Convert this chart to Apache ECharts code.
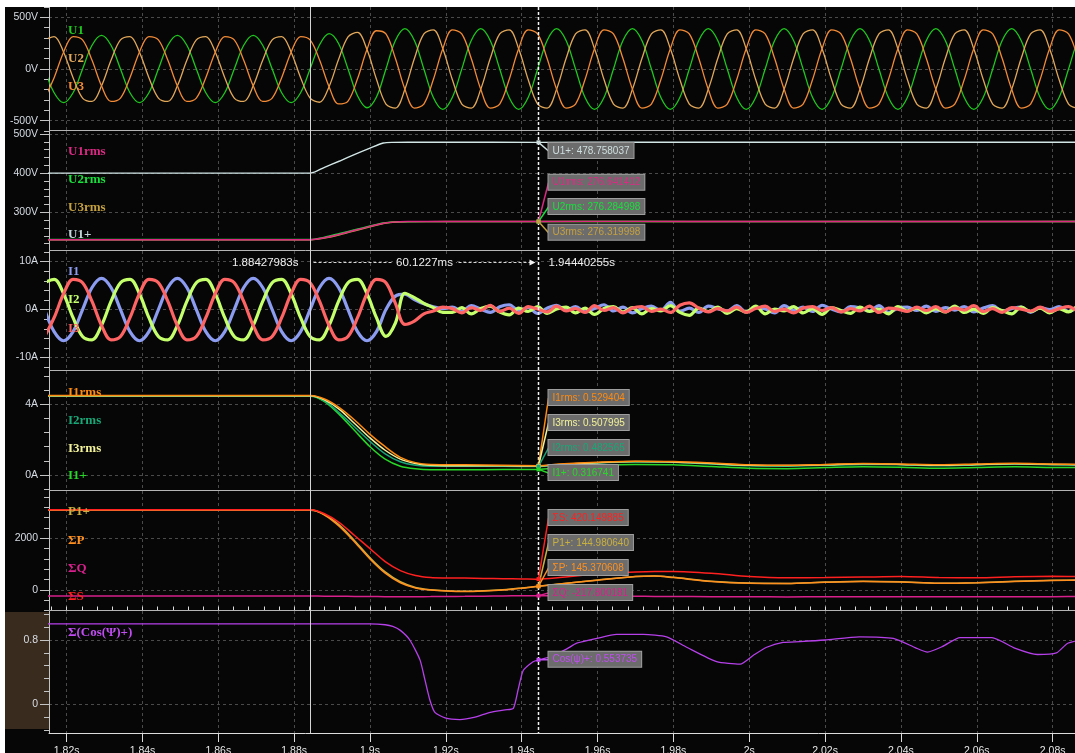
<!DOCTYPE html>
<html><head><meta charset="utf-8">
<script src="https://cdn.jsdelivr.net/npm/echarts@6/dist/echarts.min.js"></script>
<style>
html,body{margin:0;padding:0;background:#fff;width:1075px;height:753px;overflow:hidden}
#bg{position:absolute;left:5px;top:7px;width:1070px;height:746px;background:#060606}
#sel{position:absolute;left:5px;top:612px;width:44px;height:117px;background:#3a2b1f}
#chart{position:absolute;left:5px;top:7px;width:1070px;height:746px}
</style></head><body>
<div id="bg"></div><div id="sel"></div><div id="chart"></div>
<script>
// ---------------- data ----------------
const tU = [1.8142,1.8167,1.8192,1.8217,1.8242,1.8267,1.8292,1.8317,1.8342,1.8367,
1.8392,1.8417,1.8442,1.8467,1.8492,1.8517,1.8542,1.8567,1.8592,1.8617,
1.8642,1.8667,1.8692,1.8717,1.8742,1.8767,1.8792,1.8817,1.8842,1.8867,
1.8892,1.8917,1.8942,1.8967,1.8992,1.9017,1.9042,1.9067,1.9092,1.9117,
1.9142,1.9167,1.9192,1.9217,1.9242,1.9267,1.9292,1.9317,1.9342,1.9367,
1.9392,1.9417,1.9442,1.9467,1.9492,1.9517,1.9542,1.9567,1.9592,1.9617,
1.9642,1.9667,1.9692,1.9717,1.9742,1.9767,1.9792,1.9817,1.9842,1.9867,
1.9892,1.9917,1.9942,1.9967,1.9992,2.0017,2.0042,2.0067,2.0092,2.0117,
2.0142,2.0167,2.0192,2.0217,2.0242,2.0267,2.0292,2.0317,2.0342,2.0367,
2.0392,2.0417,2.0442,2.0467,2.0492,2.0517,2.0542,2.0567,2.0592,2.0617,
2.0642,2.0667,2.0692,2.0717,2.0742,2.0767,2.0792,2.0817,2.0842,2.0867,
2.0892];
const U1 = [0,-230,-325,-230,0,230,325,230,
0,-230,-325,-230,0,230,325,230,
0,-230,-325,-230,0,230,325,230,
0,-230,-325,-230,0,
235,342,247,0,-259,-375,-271,0,
276,391,276,
0,-276,-391,-276,0,276,391,276,
0,-276,-391,-276,0,276,391,276,
0,-276,-391,-276,0,276,391,276,
0,-276,-391,-276,0,276,391,276,
0,-276,-391,-276,0,276,391,276,
0,-276,-391,-276,0,276,391,276,
0,-276,-391,-276,0,276,391,276,
0,-276,-391,-276,0,276,391,276,
0,-276,-391,-276,0,276,391];
const U2 = [281,314,163,-84,-281,-314,-163,84,
281,314,163,-84,-281,-314,-163,84,
281,314,163,-84,-281,-314,-163,84,
281,314,163,-84,-281,
-322,-171,91,310,354,188,-99,-339,
-378,-196,101,
339,378,196,-101,-339,-378,-196,101,
339,378,196,-101,-339,-378,-196,101,
339,378,196,-101,-339,-378,-196,101,
339,378,196,-101,-339,-378,-196,101,
339,378,196,-101,-339,-378,-196,101,
339,378,196,-101,-339,-378,-196,101,
339,378,196,-101,-339,-378,-196,101,
339,378,196,-101,-339,-378,-196,101,
339,378,196,-101,-339,-378,-196];
const U3 = [-281,-84,163,314,281,84,-163,-314,
-281,-84,163,314,281,84,-163,-314,
-281,-84,163,314,281,84,-163,-314,
-281,-84,163,314,281,
86,-171,-338,-310,-95,188,370,339,
101,-196,-378,
-339,-101,196,378,339,101,-196,-378,
-339,-101,196,378,339,101,-196,-378,
-339,-101,196,378,339,101,-196,-378,
-339,-101,196,378,339,101,-196,-378,
-339,-101,196,378,339,101,-196,-378,
-339,-101,196,378,339,101,-196,-378,
-339,-101,196,378,339,101,-196,-378,
-339,-101,196,378,339,101,-196,-378,
-339,-101,196,378,339,101,-196];
const I1 = [0,-4.6,-6.5,-4.6,0,4.6,6.5,4.6,
0,-4.6,-6.5,-4.6,0,4.6,6.5,4.6,
0,-4.6,-6.5,-4.6,0,4.6,6.5,4.6,
0,-4.6,-6.5,-4.6,0,4.6,6.5,4.6,
0,-4.6,-6.5,-4.6,0,
2.8,3.2,2.1,1.2,0.6,0.2,
0.5,-0.3,0.8,0.1,-0.6,0.6,1.0,-0.2,0.4,-0.8,
0.3,0.9,-0.1,0.6,-0.5,0.2,1.0,-0.3,0.5,-0.7,
0.2,0.7,-0.2,1.5,-0.4,0.3,-0.6,0.7,0.2,-0.3,
0.8,-0.5,0.4,0.1,-0.7,0.8,-0.1,0.5,-0.4,0.9,
0.1,-0.5,0.6,0.3,-0.3,0.8,-0.6,0.3,0.5,-0.2,
0.7,-0.4,0.4,-0.1,0.6,-0.5,0.3,0.8,-0.3,0.2,
0.5,-0.6,0.4,0.0,0.6,-0.4,0.3,0.2];
const I2 = [5.6,6.3,3.3,-1.7,-5.6,-6.3,-3.3,1.7,
5.6,6.3,3.3,-1.7,-5.6,-6.3,-3.3,1.7,
5.6,6.3,3.3,-1.7,-5.6,-6.3,-3.3,1.7,
5.6,6.3,3.3,-1.7,-5.6,-6.3,-3.3,1.7,
5.6,6.3,3.3,-1.7,-5.6,
-2.8,3.4,2.5,1.3,0.4,-0.6,
-0.6,0.4,-0.9,0.2,0.7,-0.5,-1.1,0.3,-0.4,0.6,
-0.8,0.1,0.5,-0.7,0.3,-1.0,0.2,0.6,-0.5,0.4,
-0.9,0.2,-0.3,0.8,-0.6,-1.2,0.3,-0.4,0.5,-0.8,
0.2,-0.5,0.7,-0.9,0.1,-0.3,0.6,-0.7,0.2,-1.0,
0.4,-0.2,-0.8,0.5,-0.4,0.1,-0.9,0.6,-0.3,0.3,
-0.7,0.2,-0.5,0.7,-0.6,0.1,-0.8,0.4,-0.2,-0.9,
0.5,-0.4,0.3,-0.7,0.2,-0.5,0.6,-0.3];
const I3 = [-5.6,-1.7,3.3,6.3,5.6,1.7,-3.3,-6.3,
-5.6,-1.7,3.3,6.3,5.6,1.7,-3.3,-6.3,
-5.6,-1.7,3.3,6.3,5.6,1.7,-3.3,-6.3,
-5.6,-1.7,3.3,6.3,5.6,1.7,-3.3,-6.3,
-5.6,-1.7,3.3,6.3,5.6,
1.3,-3.1,-2.4,-0.9,-0.3,0.5,
0.2,-0.7,0.4,-0.2,0.9,-0.4,0.3,-0.8,0.6,0.1,
-0.5,0.7,-0.3,0.2,-0.6,0.8,-0.2,0.4,-0.7,0.3,
0.6,-0.4,0.1,-0.6,0.9,1.4,0.3,-0.5,0.2,-0.3,
0.5,-0.6,0.2,0.7,-0.4,0.1,-0.7,0.3,0.6,-0.2,
0.4,-0.5,0.2,-0.3,0.7,-0.6,0.3,0.1,-0.4,0.5,
-0.2,0.6,-0.5,0.3,-0.1,0.8,-0.4,0.2,-0.6,0.4,
0.1,-0.3,0.5,-0.4,0.2,0.6,-0.2,0.3];

const tRmsU = [1.8142,1.8843,1.888,1.892,1.896,1.9,1.9035,1.906,1.91,1.92,1.9444,1.97,2.0,2.03,2.06,2.0892];
const U1pos = [400,400,415,431,448,464,477,478.6,478.8,478.8,478.76,478.8,478.8,478.8,478.8,478.8];
const U1rms = [230,230,235,244,254,264,272,275,276.3,276.5,276.64,276.7,276.6,276.7,276.6,276.6];
const U2rms = [230.3,230.3,236.5,246,255.5,265,272.5,275.2,276,276.2,276.28,276.3,276.2,276.3,276.2,276.3];
const U3rms = [229.7,229.7,234,242.5,252.5,263,271.5,274.6,276.1,276.3,276.32,276.4,276.3,276.3,276.4,276.3];

const tRmsI = [1.8142,1.8843,1.888,1.892,1.896,1.9,1.904,1.908,1.912,1.916,1.925,1.935,1.9444,1.95,1.96,1.97,1.98,1.99,2.0,2.01,2.02,2.03,2.04,2.05,2.06,2.07,2.08,2.0892];
const I1rms = [4.5,4.5,4.3,3.8,3.1,2.3,1.6,1.0,0.7,0.6,0.58,0.55,0.53,0.62,0.72,0.78,0.76,0.68,0.58,0.55,0.6,0.65,0.62,0.58,0.62,0.66,0.62,0.6];
const I2rms = [4.47,4.47,4.2,3.5,2.7,1.9,1.2,0.75,0.55,0.5,0.5,0.49,0.483,0.56,0.68,0.74,0.72,0.62,0.52,0.5,0.55,0.6,0.58,0.52,0.57,0.62,0.58,0.56];
const I3rms = [4.49,4.49,4.25,3.7,2.9,2.1,1.4,0.9,0.65,0.55,0.52,0.52,0.508,0.6,0.7,0.76,0.74,0.65,0.55,0.54,0.58,0.63,0.6,0.55,0.6,0.64,0.6,0.58];
const I1pos = [4.46,4.46,4.15,3.4,2.5,1.6,0.9,0.5,0.35,0.3,0.3,0.31,0.317,0.42,0.55,0.6,0.58,0.48,0.38,0.36,0.42,0.47,0.44,0.38,0.42,0.46,0.43,0.42];

const tPow = [1.8142,1.8843,1.888,1.892,1.896,1.9,1.904,1.908,1.912,1.916,1.92,1.925,1.93,1.935,1.94,1.9444,1.95,1.96,1.97,1.975,1.98,1.99,2.0,2.01,2.02,2.03,2.04,2.05,2.06,2.07,2.08,2.0892];
const sumS = [3100,3100,2950,2600,2100,1600,1100,750,560,480,465,460,450,440,430,420,480,620,700,720,720,650,520,470,480,500,520,480,470,510,530,520];
const sumP = [3100,3100,2900,2450,1850,1200,650,280,80,0,-40,-60,-40,0,70,145,230,380,520,540,480,330,260,250,300,330,310,260,280,330,370,380];
const P1pos = [3090,3090,2920,2500,1900,1250,700,320,100,10,-30,-50,-30,10,75,145,235,385,525,545,490,340,270,255,305,335,315,265,285,335,375,385];
const sumQ = [-235,-235,-238,-242,-248,-252,-256,-258,-258,-255,-250,-245,-238,-230,-222,-218,-222,-232,-242,-248,-252,-258,-264,-266,-262,-258,-256,-258,-262,-260,-256,-255];

const tCos = [1.8142,1.9,1.904,1.906,1.908,1.9105,1.9132,1.9145,1.9158,1.9171,1.9198,1.9237,1.9277,1.9317,1.9356,1.9378,1.9391,1.9404,1.943,1.9444,1.9475,1.9519,1.9545,1.9598,1.965,1.9721,1.9782,1.9835,1.9914,1.9976,2.0011,2.0046,2.0089,2.0134,2.02,2.029,2.038,2.044,2.047,2.051,2.0556,2.064,2.07,2.076,2.081,2.084,2.0892];
const cosPhi = [1.0,1.0,0.99,0.97,0.92,0.8,0.55,0.3,0.05,-0.1,-0.17,-0.19,-0.16,-0.1,-0.07,-0.05,0.19,0.42,0.53,0.554,0.59,0.69,0.76,0.82,0.87,0.87,0.84,0.71,0.53,0.5,0.61,0.71,0.77,0.78,0.8,0.84,0.82,0.7,0.65,0.72,0.83,0.83,0.7,0.62,0.64,0.76,0.82];

// ticks
const xMajor = [1.82,1.84,1.86,1.88,1.9,1.92,1.94,1.96,1.98,2.0,2.02,2.04,2.06,2.08];
const xMajorLabels = ['1.82s','1.84s','1.86s','1.88s','1.9s','1.92s','1.94s','1.96s','1.98s','2s','2.02s','2.04s','2.06s','2.08s'];
const xMinor = [1.816,1.82,1.824,1.828,1.832,1.836,1.84,1.844,1.848,1.852,1.856,1.86,1.864,1.868,1.872,1.876,1.88,1.884,1.888,1.892,1.896,1.9,1.904,1.908,1.912,1.916,1.92,1.924,1.928,1.932,1.936,1.94,1.944,1.948,1.952,1.956,1.96,1.964,1.968,1.972,1.976,1.98,1.984,1.988,1.992,1.996,2.0,2.004,2.008,2.012,2.016,2.02,2.024,2.028,2.032,2.036,2.04,2.044,2.048,2.052,2.056,2.06,2.064,2.068,2.072,2.076,2.08,2.084];
const yMajor = [[-500,0,500],[300,400,500],[-10,0,10],[0,4],[0,2000],[0,0.8]];
const yMajorLabels = [['-500V','0V','500V'],['300V','400V','500V'],['-10A','0A','10A'],['0A','4A'],['0','2000'],['0','0.8']];
const yMinor = [
 [-600,-500,-400,-300,-200,-100,0,100,200,300,400,500,600],
 [220,240,260,280,300,320,340,360,380,400,420,440,460,480,500],
 [-12,-10,-8,-6,-4,-2,0,2,4,6,8,10,12],
 [-0.8,0,0.8,1.6,2.4,3.2,4,4.8,5.6],
 [-800,-400,0,400,800,1200,1600,2000,2400,2800,3200,3600],
 [-0.32,-0.16,0,0.16,0.32,0.48,0.64,0.8,0.96,1.12]];

// names
const names1 = ['U1','U2','U3'];
const names2 = ['U1rms','U2rms','U3rms','U1+'];
const names3 = ['I1','I2','I3'];
const names4 = ['I1rms','I2rms','I3rms','I1+'];
const names5 = ['P1+','ΣP','ΣQ','ΣS'];
const names6 = ['Σ(Cos(Ψ)+)'];

// cursors and readouts
const cursorT = [1.88427983, 1.94440255];
const cursorLabels = ['1.88427983s','60.1227ms','1.94440255s'];
const readNames2 = ['U1+','U1rms','U2rms','U3rms'];
const readVals2 = [478.758037,276.641412,276.284998,276.319998];
const readNames4 = ['I1rms','I3rms','I2rms','I1+'];
const readVals4 = [0.529404,0.507995,0.482565,0.316741];
const readNames5 = ['ΣS','P1+','ΣP','ΣQ'];
const readVals5 = [420.149885,144.980640,145.370608,-217.800181];
const readNames6 = ['Cos(ψ)+'];
const readVals6 = [0.553735];

// ---------------- layout & style ----------------
const X_MIN = 1.81535, X_MAX = 2.0859;
const GRID_TOP = [0,124,244,364,484,604];
const GRID_H = [124,120,120,120,120,122];
const Y_RANGE = [[-600,600],[201.1,507.7],[-12.8,12.2],[-0.905,5.884],[-812,3830],[-0.357,1.161]];
const C = {U1:'#1ec81e',U2:'#e2a85a',U3:'#f28a36',U1pos:'#d2e6e6',U1rms:'#dc2a84',U2rms:'#18e03c',U3rms:'#c4a040',
  I1:'#8c9cf0',I2:'#c4ff6c',I3:'#ff6464',I1rms:'#ff8a10',I2rms:'#18a878',I3rms:'#f2f29a',I1pos:'#28d828',
  P1pos:'#c8b040',SP:'#ff9020',SQ:'#d8208c',SS:'#ff2020',cos:'#b640ea'};
const AX = '#c4c4c4';
const SPLIT = {show:true, lineStyle:{color:'#4a4a4a', type:[3,3], width:1}};

function nearestLabel(vals, labs){
  return function(v){ let bi=0, bd=Infinity; vals.forEach((x,i)=>{const d=Math.abs(x-v); if(d<bd){bd=d;bi=i;}}); return labs[bi]; };
}
const pairs = (ts, vs) => ts.map((t,k)=>[t, vs[k]]);

const grids = GRID_TOP.map((t,i)=>({left:44, right:0, top:t, height:GRID_H[i], show:false, containLabel:false, outerBoundsMode:'none'}));
const xAxes = GRID_TOP.map((t,i)=>({
  type:'value', gridIndex:i, min:X_MIN, max:X_MAX,
  axisLine:{show:i===5, onZero:false, lineStyle:{color:'#dcdcdc', width:1}},
  axisTick:{show:i===5, length:9, customValues:xMajor, lineStyle:{color:'#dcdcdc'}},
  axisLabel:{show:i===5, customValues:xMajor, margin:13, color:'#e6e6e6', fontSize:10.5, fontFamily:'"Liberation Sans", Arial, sans-serif', formatter:nearestLabel(xMajor, xMajorLabels)},
  splitLine:SPLIT
}));
xAxes.push({type:'value', gridIndex:5, min:X_MIN, max:X_MAX,
  axisLine:{show:false, onZero:false}, axisTick:{show:true, length:4.5, customValues:xMinor, lineStyle:{color:'#dcdcdc'}},
  axisLabel:{show:false}, splitLine:{show:false}});
const yAxes = [];
for (let i=0;i<6;i++){
  yAxes.push({type:'value', gridIndex:i, min:Y_RANGE[i][0], max:Y_RANGE[i][1], position:'left',
    axisLine:{show:true, onZero:false, lineStyle:{color:AX}},
    axisTick:{show:true, length:9, customValues:yMajor[i], lineStyle:{color:AX}},
    axisLabel:{show:true, customValues:yMajor[i], margin:11, color:'#d6dce4', fontSize:10.5, fontFamily:'"Liberation Sans", Arial, sans-serif', formatter:nearestLabel(yMajor[i], yMajorLabels[i])},
    splitLine:SPLIT});
  yAxes.push({type:'value', gridIndex:i, min:Y_RANGE[i][0], max:Y_RANGE[i][1], position:'left',
    axisLine:{show:false, onZero:false}, axisTick:{show:true, length:5, customValues:yMinor[i], lineStyle:{color:AX}},
    axisLabel:{show:false}, splitLine:{show:false}});
}

function line(name, gi, ts, vs, color, width, smooth){
  return {type:'line', name, xAxisIndex:gi, yAxisIndex:2*gi, data:pairs(ts, vs), showSymbol:false, symbol:'none',
    smooth:smooth, lineStyle:{color, width}, itemStyle:{color}, silent:true, animation:false};
}
const series = [
  line('U1',0,tU,U1,C.U1,1.3,0.35), line('U2',0,tU,U2,C.U2,1.3,0.35), line('U3',0,tU,U3,C.U3,1.3,0.35),
  line('U2rms',1,tRmsU,U2rms,C.U2rms,1.4,0.25), line('U3rms',1,tRmsU,U3rms,C.U3rms,1.4,0.25),
  line('U1rms',1,tRmsU,U1rms,C.U1rms,1.4,0.25), line('U1+',1,tRmsU,U1pos,C.U1pos,1.4,0.25),
  line('I1',2,tU,I1,C.I1,3.2,0.35), line('I2',2,tU,I2,C.I2,3.2,0.35), line('I3',2,tU,I3,C.I3,3.2,0.35),
  line('I1+',3,tRmsI,I1pos,C.I1pos,1.5,0.3), line('I2rms',3,tRmsI,I2rms,C.I2rms,1.5,0.3),
  line('I3rms',3,tRmsI,I3rms,C.I3rms,1.5,0.3), line('I1rms',3,tRmsI,I1rms,C.I1rms,1.5,0.3),
  line('ΣQ',4,tPow,sumQ,C.SQ,1.5,0.3), line('P1+',4,tPow,P1pos,C.P1pos,1.5,0.3),
  line('ΣP',4,tPow,sumP,C.SP,1.5,0.3), line('ΣS',4,tPow,sumS,C.SS,1.5,0.3),
  line('cos',5,tCos,cosPhi,C.cos,1.3,0.2)
];

const chart = echarts.init(document.getElementById('chart'), null, {renderer:'canvas'});
chart.setOption({animation:false, backgroundColor:'transparent', grid:grids, xAxis:xAxes, yAxis:yAxes, series:series});

// ---------------- annotations ----------------
const px = t => chart.convertToPixel({xAxisIndex:5}, t);
const py = (gi, v) => chart.convertToPixel({yAxisIndex:2*gi}, v);
const g = [];
const txt = (text, x, y, fill, font, align, valign, extra) => Object.assign({type:'text', silent:true, z:100,
  style:Object.assign({text, x, y, fill, font, align, textAlign:align, verticalAlign:valign, textVerticalAlign:valign}, extra||{})});
const ln = (x1,y1,x2,y2,stroke,w,dash) => ({type:'line', silent:true, z:95, shape:{x1,y1,x2,y2}, style:{stroke, lineWidth:w, lineDash:dash||null}});

for (let i=1;i<6;i++) g.push(ln(44, GRID_TOP[i]-0.5, 1070, GRID_TOP[i]-0.5, '#b4b4b4', 1));

const LFONT = 'bold 13px "Liberation Serif", "DejaVu Serif", serif';
const nameSets = [
  [0, names1, [C.U1,C.U2,C.U3], [24,52,80]],
  [1, names2, [C.U1rms,C.U2rms,C.U3rms,'#c4d8dc'], [21,48.7,76.3,103.7]],
  [2, names3, [C.I1,C.I2,C.I3], [20.7,49,77.3]],
  [3, names4, [C.I1rms,C.I2rms,C.I3rms,C.I1pos], [21.3,49.7,77.7,105]],
  [4, names5, [C.P1pos,C.SP,C.SQ,C.SS], [20.7,49.7,78,105.7]],
  [5, names6, ['#c24cf4'], [21.7]]
];
nameSets.forEach(([gi, ns, cs, offs]) => ns.forEach((n,k) => g.push(txt(n, 63, GRID_TOP[gi]+offs[k], cs[k], LFONT, 'left', 'middle'))));

const c1 = Math.round(px(cursorT[0]))+0.5, c2 = Math.round(px(cursorT[1]))+0.5;
g.push(ln(c1, 0, c1, 726, '#d4d4d4', 1));
g.push(ln(c2, 0, c2, 726, '#f4f4f4', 1.5, [3,2]));

// time readout in current panel
const ry = GRID_TOP[2] + 11.5;
const TFONT = '11.5px "Liberation Sans", Arial, sans-serif';
g.push(ln(c1+3, ry, c2-7, ry, '#d8d8d8', 1, [3,2]));
g.push({type:'polygon', silent:true, z:96, shape:{points:[[c2-3, ry],[c2-9, ry-3],[c2-9, ry+3]]}, style:{fill:'#f0f0f0'}});
g.push(txt(cursorLabels[0], c1-12, ry, '#f0f0f0', TFONT, 'right', 'middle'));
g.push(txt(cursorLabels[1], (c1+c2)/2, ry, '#f0f0f0', TFONT, 'center', 'middle', {backgroundColor:'#060606', padding:[0,3]}));
g.push(txt(cursorLabels[2], c2+10, ry, '#f0f0f0', TFONT, 'left', 'middle'));

// value boxes at cursor 2
const BFONT = '10px "Liberation Sans", Arial, sans-serif';
const boxSets = [
  [1, readNames2, readVals2, ['#cfdede',C.U1rms,C.U2rms,C.U3rms], [12,43.7,68,93.7]],
  [3, readNames4, readVals4, [C.I1rms,C.I3rms,C.I2rms,C.I1pos], [19,44,69,94]],
  [4, readNames5, readVals5, [C.SS,C.P1pos,C.SP,C.SQ], [19,44,69,94]],
  [5, readNames6, readVals6, ['#c24cf4'], [40.7]]
];
boxSets.forEach(([gi, ns, vs, cs, offs]) => {
  ns.forEach((n,k) => {
    const yv = py(gi, vs[k]);
    const bx = c2 + 10, by = GRID_TOP[gi] + offs[k];
    g.push(ln(c2, yv, bx, by+8, cs[k], 1.5));
    g.push({type:'rect', silent:true, z:97, shape:{x:c2-2, y:yv-2, width:4, height:4}, style:{fill:cs[k]}});
    g.push(txt(n + ': ' + vs[k].toFixed(6), bx, by, cs[k], BFONT, 'left', 'top',
      {backgroundColor:'#6c6c6c', borderColor:'#9e9e9e', borderWidth:1, padding:[3,4,2,4]}));
  });
});

chart.setOption({graphic:{elements:g}});
</script></body></html>
